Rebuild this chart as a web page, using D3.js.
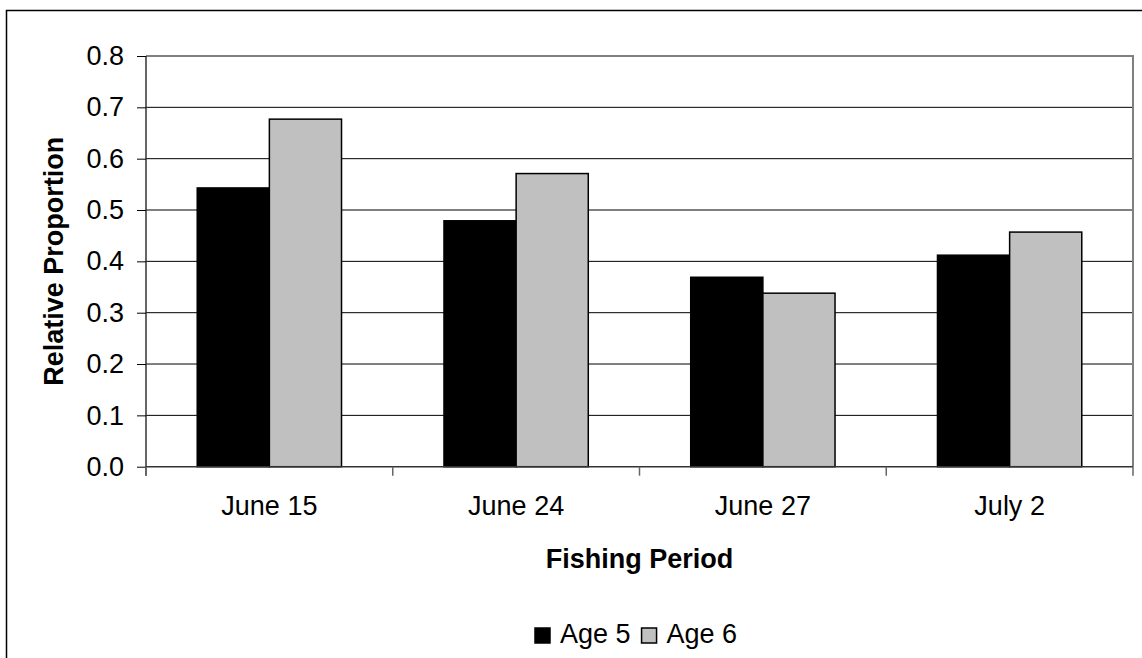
<!DOCTYPE html>
<html>
<head>
<meta charset="utf-8">
<script src="https://cdn.jsdelivr.net/npm/d3@7"></script>
<style>
  body { margin: 0; background: #fff; }
  text { font-family: "Liberation Sans", Arial, sans-serif; fill: #000; }
</style>
</head>
<body>
<script>
// Data
const periods = ["June 15", "June 24", "June 27", "July 2"];
const seriesNames = ["Age 5", "Age 6"];
const age5 = [0.543, 0.479, 0.369, 0.412];
const age6 = [0.677, 0.571, 0.338, 0.457];
const yTicks = [0, 0.1, 0.2, 0.3, 0.4, 0.5, 0.6, 0.7, 0.8];
const colors = ["#000000", "#c0c0c0"];

// Main
const width = 1142, height = 658;
const fontSize = "27px";
const svg = d3.select("body").append("svg")
    .attr("width", width)
    .attr("height", height);

// outer chart border
svg.append("rect")
    .attr("x", 6.5).attr("y", 10.5)
    .attr("width", 1145).attr("height", 660)
    .attr("fill", "none")
    .attr("stroke", "#000")
    .attr("stroke-width", 1.5);

const plotLeft = 146, plotRight = 1133, plotTop = 56, plotBottom = 466.7;

let x = d3.scaleBand().domain(periods).range([plotLeft, plotRight]);
let y = d3.scaleLinear().domain([0, 0.8]).range([plotBottom, plotTop]);

// gridlines
svg.selectAll(".grid")
    .data(yTicks.slice(1, -1)).enter()
    .append("line")
    .attr("class", "grid")
    .attr("x1", plotLeft).attr("x2", plotRight)
    .attr("y1", d => y(d)).attr("y2", d => y(d))
    .attr("stroke", "#000")
    .attr("stroke-width", 1);

// plot area border (gray top/right)
svg.append("path")
    .attr("d", `M${plotLeft},${y(0.8)}H${plotRight}V${plotBottom}`)
    .attr("fill", "none")
    .attr("stroke", "#808080")
    .attr("stroke-width", 2);

// bars
const series = [age5, age6];
let xInner = d3.scaleBand().domain([0, 1]).range([0, x.bandwidth()]).paddingOuter(0.71).paddingInner(0);
series.forEach((vals, si) => {
    svg.selectAll(".bar" + si)
        .data(vals).enter()
        .append("rect")
        .attr("class", "bar" + si)
        .attr("x", (d, i) => x(periods[i]) + xInner(si))
        .attr("y", d => y(d))
        .attr("width", xInner.bandwidth())
        .attr("height", d => plotBottom - y(d))
        .attr("fill", colors[si])
        .attr("stroke", "#000")
        .attr("stroke-width", 1.5);
});

// y axis
let yAxis = svg.append("g")
    .attr("transform", `translate(${plotLeft},0)`)
    .call(d3.axisLeft(y).tickValues(yTicks).tickFormat(d3.format(".1f")).tickSize(9).tickPadding(13));
yAxis.selectAll("text").style("font-size", fontSize);
yAxis.select(".domain").attr("stroke", "#333").attr("stroke-width", 1.5).attr("d", `M0,${plotTop}V${plotBottom + 9}`);
yAxis.selectAll(".tick line").attr("stroke", "#000");

// x axis
let xAxis = svg.append("g")
    .attr("transform", `translate(0,${plotBottom})`)
    .call(d3.axisBottom(x).tickSize(0).tickPadding(29));
xAxis.select(".domain").attr("stroke", "#333").attr("stroke-width", 1.5).attr("d", `M${plotLeft},0H${plotRight}`);
xAxis.selectAll("text").style("font-size", fontSize);
xAxis.selectAll(".cat-tick")
    .data(periods.map(p => x(p)).concat([plotRight])).enter()
    .append("line")
    .attr("class", "cat-tick")
    .attr("x1", d => d).attr("x2", d => d)
    .attr("y1", 0).attr("y2", 9)
    .attr("stroke", "#666")
    .attr("stroke-width", 1.5);

// axis titles
svg.append("text")
    .attr("transform", `translate(63,${(plotTop + plotBottom) / 2}) rotate(-90)`)
    .attr("text-anchor", "middle")
    .style("font-size", fontSize)
    .style("font-weight", "bold")
    .text("Relative Proportion");

svg.append("text")
    .attr("x", (plotLeft + plotRight) / 2).attr("y", 568)
    .attr("text-anchor", "middle")
    .style("font-size", fontSize)
    .style("font-weight", "bold")
    .text("Fishing Period");

// legend
let legend = svg.append("g").attr("transform", "translate(535,0)");
let lx = 0;
seriesNames.forEach((name, i) => {
    legend.append("rect")
        .attr("x", lx).attr("y", 628)
        .attr("width", 15).attr("height", 15)
        .attr("fill", colors[i])
        .attr("stroke", "#000")
        .attr("stroke-width", 1.5);
    let t = legend.append("text")
        .attr("x", lx + 25).attr("y", 643)
        .style("font-size", fontSize)
        .text(name);
    lx += 25 + t.node().getComputedTextLength() + 11;
});
</script>
</body>
</html>
